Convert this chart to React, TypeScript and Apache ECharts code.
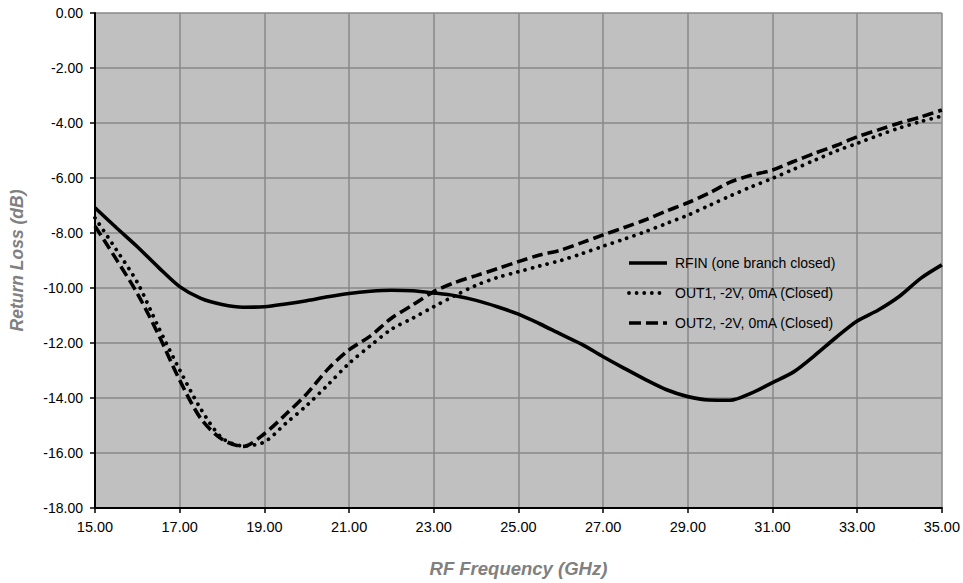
import React, { useEffect, useRef } from "react";
import * as echarts from "echarts";

const freqGHz = [
  15, 15.5, 16, 16.5, 17, 17.5, 18, 18.5, 19, 19.5, 20, 20.5, 21, 21.5, 22, 22.5,
  23, 23.5, 24, 24.5, 25, 25.5, 26, 26.5, 27, 27.5, 28, 28.5, 29, 29.5, 30, 30.5,
  31, 31.5, 32, 32.5, 33, 33.5, 34, 34.5, 35,
];

const rfin = [
  -7.08, -7.8, -8.5, -9.25, -9.95, -10.38, -10.6, -10.7, -10.68, -10.58, -10.46, -10.32,
  -10.2, -10.12, -10.08, -10.1, -10.18, -10.28, -10.45, -10.68, -10.95, -11.3, -11.68, -12.05,
  -12.5, -12.92, -13.33, -13.7, -13.95, -14.07, -14.08, -13.82, -13.44, -13.05, -12.45, -11.8,
  -11.2, -10.8, -10.3, -9.65, -9.16,
];

const out1 = [
  -7.45, -8.6, -9.8, -11.43, -12.98, -14.4, -15.45, -15.74, -15.6, -14.93, -14.27, -13.52,
  -12.74, -12.1, -11.5, -11.1, -10.68, -10.28, -9.9, -9.62, -9.41, -9.2, -9.0, -8.75,
  -8.48, -8.22, -7.95, -7.65, -7.35, -7.0, -6.65, -6.32, -6.01, -5.68, -5.35, -5.02,
  -4.74, -4.45, -4.18, -3.95, -3.75,
];

const out2 = [
  -7.75, -8.95, -10.2, -11.7, -13.35, -14.75, -15.5, -15.76, -15.3, -14.6, -13.85, -12.95,
  -12.25, -11.75, -11.1, -10.62, -10.13, -9.8, -9.55, -9.3, -9.04, -8.8, -8.62, -8.35,
  -8.07, -7.8, -7.52, -7.2, -6.9, -6.55, -6.15, -5.9, -5.71, -5.4, -5.1, -4.82,
  -4.5, -4.25, -4.0, -3.78, -3.53,
];

const seriesNames = [
  "RFIN (one branch closed)",
  "OUT1, -2V, 0mA (Closed)",
  "OUT2, -2V, 0mA (Closed)",
];

const xAxisTitle = "RF Frequency (GHz)";
const yAxisTitle = "Return Loss (dB)";

const FONT = "'Liberation Sans', Arial, sans-serif";

const solidStyle = { width: 3.6, type: "solid" as const };
const dotStyle = { width: 3.8, dash: [0.01, 7.6], cap: "round" as const };
const dashStyle = { width: 3.6, dash: [11, 5], cap: "butt" as const };

export default function App() {
  const ref = useRef<HTMLDivElement>(null);

  useEffect(() => {
    if (!ref.current) return;
    const chart = echarts.init(ref.current, null, { renderer: "svg" });
    const pairs = (ys: number[]) => freqGHz.map((x, i) => [x, ys[i]]);

    const legendX0 = 629;
    const legendX1 = 667;
    const legendYs = [263, 293, 323];
    const legendStyles = [
      { lineWidth: solidStyle.width, lineDash: null as any, lineCap: "butt" },
      { lineWidth: dotStyle.width, lineDash: dotStyle.dash, lineCap: "round" },
      { lineWidth: dashStyle.width, lineDash: [12, 5], lineCap: "butt" },
    ];
    const legendGraphics: any[] = [];
    seriesNames.forEach((name, i) => {
      const st: any = { stroke: "#000", lineWidth: legendStyles[i].lineWidth, lineCap: legendStyles[i].lineCap };
      if (legendStyles[i].lineDash) st.lineDash = legendStyles[i].lineDash;
      legendGraphics.push({
        type: "line",
        shape: { x1: legendX0, y1: legendYs[i], x2: legendX1, y2: legendYs[i] },
        style: st,
        z: 100,
      });
      legendGraphics.push({
        type: "text",
        x: 675,
        y: legendYs[i],
        style: {
          text: name,
          fontFamily: FONT,
          fontSize: 14,
          fill: "#000",
          verticalAlign: "middle",
          align: "left",
        },
        z: 100,
      });
    });

    chart.setOption({
      animation: false,
      backgroundColor: "#ffffff",
      grid: {
        left: 95,
        right: 18,
        top: 13,
        bottom: 75,
        show: true,
        backgroundColor: "#c0c0c0",
        borderWidth: 0,
      },
      graphic: legendGraphics,
      xAxis: {
        type: "value",
        min: 15,
        max: 35,
        interval: 2,
        name: xAxisTitle,
        nameLocation: "middle",
        nameGap: 51,
        nameTextStyle: {
          fontFamily: FONT,
          fontSize: 18.5,
          fontWeight: "bold",
          fontStyle: "italic",
          color: "#808080",
        },
        axisLine: { show: true, onZero: false, lineStyle: { color: "#000", width: 2 } },
        axisTick: { show: true, inside: false, length: 5, lineStyle: { color: "#000", width: 1.5 } },
        axisLabel: {
          margin: 11,
          fontFamily: FONT,
          fontSize: 14.5,
          color: "#000",
          formatter: (v: number) => v.toFixed(2),
        },
        splitLine: { show: true, lineStyle: { color: "#888888", width: 1.5 } },
      },
      yAxis: {
        type: "value",
        min: -18,
        max: 0,
        interval: 2,
        name: yAxisTitle,
        nameLocation: "middle",
        nameGap: 69,
        nameTextStyle: {
          fontFamily: FONT,
          fontSize: 17.5,
          fontWeight: "bold",
          fontStyle: "italic",
          color: "#808080",
        },
        axisLine: { show: true, onZero: false, lineStyle: { color: "#000", width: 2 } },
        axisTick: { show: true, inside: false, length: 5, lineStyle: { color: "#000", width: 1.5 } },
        axisLabel: {
          margin: 12,
          fontFamily: FONT,
          fontSize: 14,
          color: "#000",
          formatter: (v: number) => v.toFixed(2),
        },
        splitLine: { show: true, lineStyle: { color: "#888888", width: 1.5 } },
      },
      series: [
        {
          name: seriesNames[0],
          type: "line",
          data: pairs(rfin),
          showSymbol: false,
          symbol: "none",
          smooth: 0.3,
          lineStyle: { color: "#000", width: solidStyle.width, type: "solid" },
          z: 3,
        },
        {
          name: seriesNames[1],
          type: "line",
          data: pairs(out1),
          showSymbol: false,
          symbol: "none",
          smooth: 0.3,
          lineStyle: { color: "#000", width: dotStyle.width, type: dotStyle.dash, cap: dotStyle.cap },
          z: 2,
        },
        {
          name: seriesNames[2],
          type: "line",
          data: pairs(out2),
          showSymbol: false,
          symbol: "none",
          smooth: 0.3,
          lineStyle: { color: "#000", width: dashStyle.width, type: dashStyle.dash, cap: dashStyle.cap },
          z: 2,
        },
      ],
    });
    return () => chart.dispose();
  }, []);

  return (
    <div
      ref={ref}
      style={{ position: "absolute", left: 0, top: 0, width: 963, height: 583 }}
    />
  );
}
